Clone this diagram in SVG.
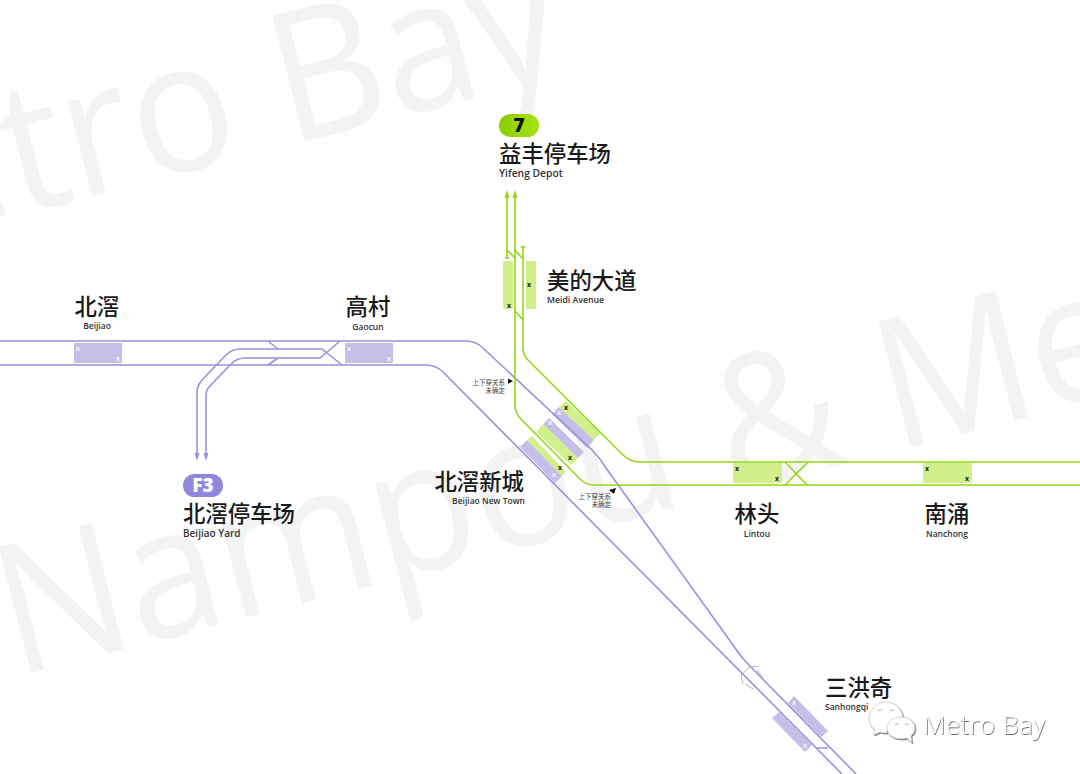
<svg xmlns="http://www.w3.org/2000/svg" width="1080" height="774" viewBox="0 0 1080 774">
<style>
.wm{font-family:"Open Sans","Noto Sans",sans-serif;fill:#f3f3f3;font-size:182px}
.zh{font-family:"Noto Sans CJK SC",sans-serif;font-size:22.4px;font-weight:500;fill:#1a1a1a}
.en{font-family:"Open Sans","Noto Sans",sans-serif;font-size:8.5px;font-weight:600;fill:#333}
.c{text-anchor:middle}
.e{text-anchor:end}
.note{font-family:"Noto Sans CJK SC",sans-serif;font-size:6.5px;fill:#444;text-anchor:end}
.p{fill:none;stroke:#9a90e0;stroke-width:1.6}
.g{fill:none;stroke:#93d815;stroke-width:1.6}
.pp{fill:#c5bfe8}
.gp{fill:#d1f08c}
.xw{font-family:"Open Sans",sans-serif;font-size:7px;font-weight:700;fill:#f2f0fb;text-anchor:middle}
.xd{font-family:"Open Sans",sans-serif;font-size:7px;font-weight:700;fill:#222;text-anchor:middle}
.pill{font-family:"Open Sans",sans-serif;font-size:19px;font-weight:800;text-anchor:middle}
.bub{fill:#fff;stroke:#bbb;stroke-width:0.6}
.eye{fill:none;stroke:#999;stroke-width:0.8}
</style>
<defs>
<linearGradient id="pg" x1="0" x2="1" y1="0" y2="0"><stop offset="0" stop-color="#8ccc00"/><stop offset="1" stop-color="#a4e312"/></linearGradient>
<filter id="ds" x="-10%" y="-20%" width="120%" height="150%"><feDropShadow dx="0.7" dy="0.9" stdDeviation="0.4" flood-color="#555"/></filter>
</defs>
<rect width="1080" height="774" fill="#fff"/>
<g id="watermark">
<text class="wm" transform="translate(-223,277) rotate(-14.4) scale(0.94,1)">Metro Bay</text>
<text class="wm" transform="translate(15,677) rotate(-14.4) scale(0.94,1)">Nampou &amp; Me</text>
</g>
<g id="platforms-diagonal">
<polygon class="pp" points="520,447 527,440 562,476 555,483"/>
<polygon class="gp" points="527,440 532,436 566,472 562,476"/>
<polygon class="gp" points="536,432 543,424 578,458 571,465"/>
<polygon class="pp" points="543,424 549,418 584,452 578,458"/>
<polygon class="pp" points="552,414 559,407 594,440 587,448"/>
<polygon class="gp" points="559,407 566,401 601,433 594,440"/>
</g>
<g id="connectors">
<path class="p" d="M0 341H466Q476 341 483 348L592 450Q600 458 606 468L738 652Q742 658 747 663L856 774"/>
<path class="p" d="M0 365H426Q436 365 443 372L842 774"/>
<path class="p" d="M197 453V392Q197 386 202 380L226 355Q232 349 240 349H322L342 365"/>
<path class="p" d="M206 453V395Q206 390 210 386L231 364Q237 358 245 358H320L340 341"/>
<path class="p" d="M268 341L278 349M268 365L278 358M817 748H828"/>
<path d="M194.500 453H199.500L197 461ZM203.500 453H208.500L206 461Z" fill="#9a90e0"/>
<path class="g" d="M507 198V258M505 258H509"/>
<path class="g" d="M507 250L515 258"/>
<path class="g" d="M515 198V405Q515 412 520 418L580 479Q586 485 594 485H1080"/>
<path class="g" d="M523 247V348Q523 355 528 360L622 454Q630 462 640 462H1080M520.500 247H525.500"/>
<path class="g" d="M515 250L523 259M515 311L523 320"/>
<path class="g" d="M785 462L807 485M808 462L785 485"/>
<path d="M504.500 198H509.500L507 190ZM512.500 198H517.500L515 190Z" fill="#93d815"/>
<path d="M741 675L750 667L758 666M741 675L743 684M757 670L763 678M745 684L753 689" fill="none" stroke="#aaa" stroke-width="0.9"/>
</g>
<g id="beijiao"><rect class="pp" x="74" y="343" width="48" height="20"/><text class="xw" x="78" y="351">x</text><text class="xw" x="118" y="361">x</text><text class="zh c" x="97" y="315">北滘</text><text class="en c" x="97" y="329">Beijiao</text></g>
<g id="gaocun"><rect class="pp" x="345" y="343" width="48" height="20"/><text class="xw" x="349" y="351">x</text><text class="xw" x="389" y="361">x</text><text class="zh c" x="368" y="315">高村</text><text class="en c" x="368" y="330">Gaocun</text></g>
<g id="beijiao-yard"><rect x="183" y="474" width="40" height="23" rx="11.500" fill="#9088dc"/><text class="pill" x="203" y="492" fill="#fff">F3</text><text class="zh" x="183" y="522">北滘停车场</text><text class="en" x="183" y="537" style="font-size:10px">Beijiao Yard</text></g>
<g id="yifeng-depot"><rect x="499" y="114" width="40" height="23" rx="11.500" fill="url(#pg)"/><text class="pill" x="519" y="132" fill="#111">7</text><text class="zh" x="499" y="162">益丰停车场</text><text class="en" x="499" y="177" style="font-size:10.300px">Yifeng Depot</text></g>
<g id="meidi-avenue"><rect class="gp" x="503" y="261" width="10" height="48"/><rect class="gp" x="526" y="261" width="10" height="48"/><text class="xd" x="509" y="308">x</text><text class="xd" x="529" y="287">x</text><text class="zh" x="547" y="289">美的大道</text><text class="en" x="547" y="303" style="font-size:8.700px">Meidi Avenue</text></g>
<g id="beijiao-new-town"><text class="xw" x="554" y="477">x</text><text class="xw" x="550" y="425">x</text><text class="xw" x="559" y="415">x</text><text class="xd" x="560" y="470">x</text><text class="xd" x="570" y="460">x</text><text class="xd" x="566" y="410">x</text><text class="zh e" x="524" y="490">北滘新城</text><text class="en e" x="525" y="504">Beijiao New Town</text></g>
<g id="lintou"><rect class="gp" x="733" y="463" width="49" height="20"/><text class="xd" x="737" y="471">x</text><text class="xd" x="777" y="481">x</text><text class="zh c" x="757" y="522">林头</text><text class="en c" x="757" y="537">Lintou</text></g>
<g id="nanchong"><rect class="gp" x="923" y="463" width="49" height="20"/><text class="xd" x="927" y="471">x</text><text class="xd" x="967" y="481">x</text><text class="zh c" x="947" y="522">南涌</text><text class="en c" x="947" y="537">Nanchong</text></g>
<g id="sanhongqi"><polygon class="pp" points="788,703 794,696 828,731 821,737"/><polygon class="pp" points="772,718 779,712 812,745 805,752"/><text class="xw" x="794" y="705">x</text><text class="xw" x="805" y="748">x</text><text class="zh" x="825" y="696">三洪奇</text><text class="en" x="825" y="710">Sanhongqi</text></g>
<g id="note-1"><text class="note" x="505" y="384.500">上下穿关系</text><text class="note" x="505" y="392.500">未确定</text><path d="M508 378.500L513 381L508 384Z" fill="#111"/></g>
<g id="note-2"><text class="note" x="611" y="498.500">上下穿关系</text><text class="note" x="611" y="506.500">未确定</text><path d="M616 488L614 494L609 490Z" fill="#111"/></g>
<g id="brand" filter="url(#ds)">
<path class="bub" d="M886 702C876 702 869 710 869 718C869 723 871 727 875 730L874 735L880 732C882 733 884 733 887 733C887 725 894 717 903 717C902 709 895 702 886 702Z"/>
<path class="bub" d="M901 717C893 717 887 722 887 728C887 734 893 739 901 739C903 739 905 739 907 738L912 743L911 736C914 734 915 731 915 728C915 722 909 717 901 717Z"/>
<path class="eye" d="M878 711Q880 708 882 711M890 711Q892 708 894 711M895 725Q897 722 899 725M905 725Q907 722 909 725"/>
<text x="923" y="734" style="font-family:'Open Sans',sans-serif;font-size:26px;font-weight:300;fill:#fff;letter-spacing:0.3px">Metro Bay</text>
</g>
</svg>
